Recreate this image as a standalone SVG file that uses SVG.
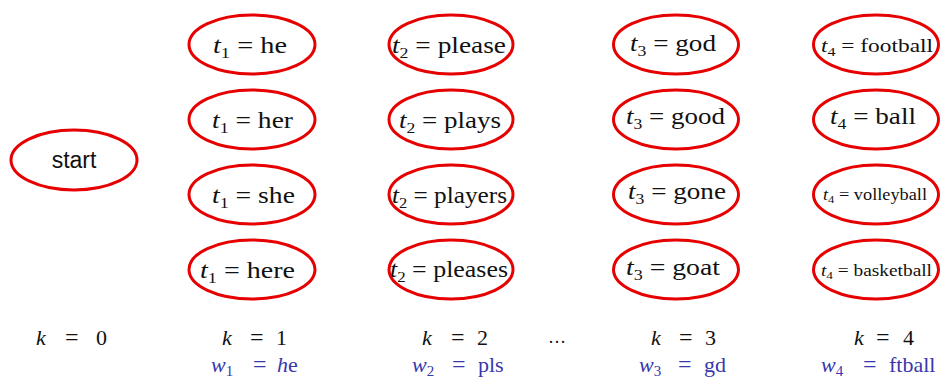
<svg xmlns="http://www.w3.org/2000/svg" width="946" height="379" viewBox="0 0 946 379">
<style>
.n{fill:#fff;stroke:#e60000;stroke-width:3}
.t{font-family:"Liberation Serif","DejaVu Serif",serif;font-size:23px;fill:#111;text-anchor:middle;white-space:pre}
.s{font-family:"Liberation Sans","Open Sans",sans-serif;font-size:23px;fill:#111;text-anchor:middle}
.l{font-family:"Liberation Serif","DejaVu Serif",serif;font-size:22px;fill:#111;white-space:pre}
.e{font-size:24px}
.i{font-style:italic}
.b{fill:#3838ac}
.m{font-size:15px}
.f{font-size:19px}
.v{font-size:16px}
.vs{font-size:11px}
</style>
<g id="connectors"></g>
<g id="start"><ellipse class="n" cx="74" cy="160" rx="63" ry="30"/><text class="s" x="74" y="168">start</text></g>
<g id="t1_he"><ellipse class="n" cx="252" cy="44.5" rx="63" ry="29.5"/><text class="t" x="250" y="53" textLength="74" lengthAdjust="spacingAndGlyphs"><tspan class="i">t</tspan><tspan class="m" dy="5">1</tspan><tspan dy="-5"> = he</tspan></text></g>
<g id="t1_her"><ellipse class="n" cx="252" cy="119.5" rx="63" ry="29.5"/><text class="t" x="252.5" y="128" textLength="81" lengthAdjust="spacingAndGlyphs"><tspan class="i">t</tspan><tspan class="m" dy="5">1</tspan><tspan dy="-5"> = her</tspan></text></g>
<g id="t1_she"><ellipse class="n" cx="252" cy="194.5" rx="63" ry="29.5"/><text class="t" x="253.5" y="203" textLength="83" lengthAdjust="spacingAndGlyphs"><tspan class="i">t</tspan><tspan class="m" dy="5">1</tspan><tspan dy="-5"> = she</tspan></text></g>
<g id="t1_here"><ellipse class="n" cx="252" cy="269.5" rx="63" ry="29.5"/><text class="t" x="247.5" y="278" textLength="95" lengthAdjust="spacingAndGlyphs"><tspan class="i">t</tspan><tspan class="m" dy="5">1</tspan><tspan dy="-5"> = here</tspan></text></g>
<g id="t2_please"><ellipse class="n" cx="451" cy="44.5" rx="62" ry="29.5"/><text class="t" x="449" y="53" textLength="114" lengthAdjust="spacingAndGlyphs"><tspan class="i">t</tspan><tspan class="m" dy="5">2</tspan><tspan dy="-5"> = please</tspan></text></g>
<g id="t2_plays"><ellipse class="n" cx="451" cy="119.5" rx="62" ry="29.5"/><text class="t" x="450" y="128" textLength="102" lengthAdjust="spacingAndGlyphs"><tspan class="i">t</tspan><tspan class="m" dy="5">2</tspan><tspan dy="-5"> = plays</tspan></text></g>
<g id="t2_players"><ellipse class="n" cx="451" cy="194.5" rx="62" ry="29.5"/><text class="t" x="449.5" y="203" textLength="115" lengthAdjust="spacingAndGlyphs"><tspan class="i">t</tspan><tspan class="m" dy="5">2</tspan><tspan dy="-5"> = players</tspan></text></g>
<g id="t2_pleases"><ellipse class="n" cx="451" cy="269.5" rx="62" ry="29.5"/><text class="t" x="449" y="277" textLength="118" lengthAdjust="spacingAndGlyphs"><tspan class="i">t</tspan><tspan class="m" dy="5">2</tspan><tspan dy="-5"> = pleases</tspan></text></g>
<g id="t3_god"><ellipse class="n" cx="676" cy="44.5" rx="62.5" ry="29.5"/><text class="t" x="673" y="51" textLength="86" lengthAdjust="spacingAndGlyphs"><tspan class="i">t</tspan><tspan class="m" dy="5">3</tspan><tspan dy="-5"> = god</tspan></text></g>
<g id="t3_good"><ellipse class="n" cx="676" cy="119.5" rx="62.5" ry="29.5"/><text class="t" x="675.5" y="124" textLength="99" lengthAdjust="spacingAndGlyphs"><tspan class="i">t</tspan><tspan class="m" dy="5">3</tspan><tspan dy="-5"> = good</tspan></text></g>
<g id="t3_gone"><ellipse class="n" cx="676" cy="194.5" rx="62.5" ry="29.5"/><text class="t" x="677" y="199" textLength="98" lengthAdjust="spacingAndGlyphs"><tspan class="i">t</tspan><tspan class="m" dy="5">3</tspan><tspan dy="-5"> = gone</tspan></text></g>
<g id="t3_goat"><ellipse class="n" cx="676" cy="269.5" rx="62.5" ry="29.5"/><text class="t" x="673" y="275" textLength="94" lengthAdjust="spacingAndGlyphs"><tspan class="i">t</tspan><tspan class="m" dy="5">3</tspan><tspan dy="-5"> = goat</tspan></text></g>
<g id="t4_football"><ellipse class="n" cx="876" cy="44.5" rx="62.5" ry="29.5"/><text class="t f" x="877" y="52" textLength="112" lengthAdjust="spacingAndGlyphs"><tspan class="i">t</tspan><tspan dy="4" style="font-size:13px">4</tspan><tspan dy="-4"> = football</tspan></text></g>
<g id="t4_ball"><ellipse class="n" cx="876" cy="119.5" rx="62.5" ry="29.5"/><text class="t" x="873" y="124" textLength="86" lengthAdjust="spacingAndGlyphs"><tspan class="i">t</tspan><tspan class="m" dy="5">4</tspan><tspan dy="-5"> = ball</tspan></text></g>
<g id="t4_volleyball"><ellipse class="n" cx="876" cy="194.5" rx="62.5" ry="29.5"/><text class="t v" x="875" y="200" textLength="104" lengthAdjust="spacingAndGlyphs"><tspan class="i">t</tspan><tspan class="vs" dy="3">4</tspan><tspan dy="-3"> = volleyball</tspan></text></g>
<g id="t4_basketball"><ellipse class="n" cx="876" cy="269.5" rx="62.5" ry="29.5"/><text class="t v" x="876.5" y="276" textLength="111" lengthAdjust="spacingAndGlyphs"><tspan class="i">t</tspan><tspan class="vs" dy="3">4</tspan><tspan dy="-3"> = basketball</tspan></text></g>
<g id="labels">
<text class="l" y="345"><tspan class="i" x="36">k</tspan><tspan class="e" x="65">=</tspan><tspan x="96">0</tspan></text>
<text class="l" y="345"><tspan class="i" x="222">k</tspan><tspan class="e" x="250">=</tspan><tspan x="276">1</tspan></text>
<text class="l" y="345"><tspan class="i" x="422">k</tspan><tspan class="e" x="451">=</tspan><tspan x="477">2</tspan></text>
<text class="l" x="548" y="343" style="font-size:18px">…</text>
<text class="l" y="345"><tspan class="i" x="651">k</tspan><tspan class="e" x="679">=</tspan><tspan x="705">3</tspan></text>
<text class="l" y="345"><tspan class="i" x="854">k</tspan><tspan class="e" x="876">=</tspan><tspan x="903">4</tspan></text>
<text class="l b" y="372"><tspan class="i" x="211">w</tspan><tspan class="m" dy="4">1</tspan><tspan class="e" x="253" dy="-4">=</tspan><tspan class="i" x="277">h</tspan><tspan>e</tspan></text>
<text class="l b" y="372"><tspan class="i" x="412">w</tspan><tspan class="m" dy="4">2</tspan><tspan class="e" x="452" dy="-4">=</tspan><tspan x="478">pls</tspan></text>
<text class="l b" y="372"><tspan class="i" x="639">w</tspan><tspan class="m" dy="4">3</tspan><tspan class="e" x="678" dy="-4">=</tspan><tspan x="704">gd</tspan></text>
<text class="l b" y="372"><tspan class="i" x="821">w</tspan><tspan class="m" dy="4">4</tspan><tspan class="e" x="863" dy="-4">=</tspan><tspan x="889">ftball</tspan></text>
</g>
</svg>
